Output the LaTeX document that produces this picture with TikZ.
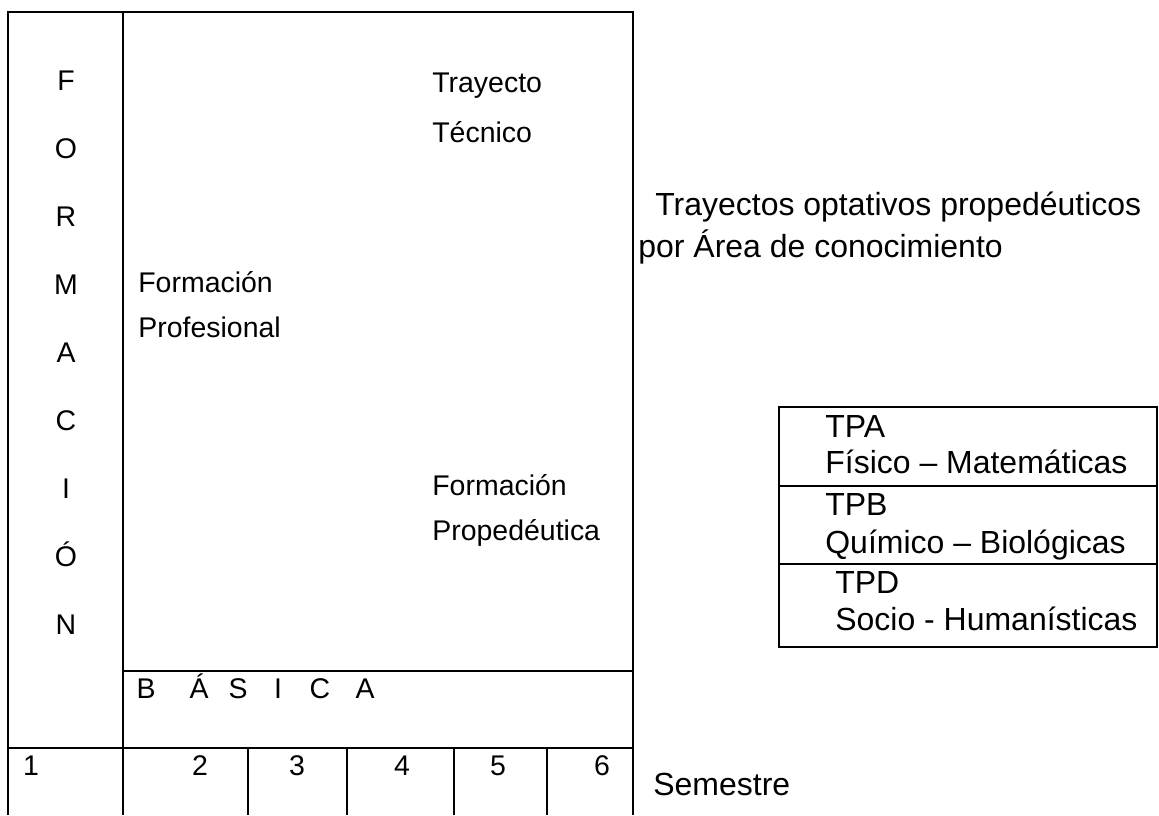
\documentclass[tikz,border=0pt]{standalone}
\usepackage{fontspec}
\setmainfont{Liberation Sans}
\usetikzlibrary{positioning}
\tikzset{
    intxt/.style={inner sep=0pt, font=\fontsize{16.2}{19}\selectfont},
    outtxt/.style={inner sep=0pt, font=\fontsize{18.2}{22}\selectfont},
    gridline/.style={line width=1.1pt}
}

\begin{document}
\begin{tikzpicture}[x=0.02cm, y=-0.02cm]
    \useasboundingbox (0,0) rectangle (1159,815);

    % main frame
    \coordinate (tl) at (8,12);
    \coordinate (tr) at (633,12);
    \coordinate (bl) at (8,815);
    \coordinate (br) at (633,815);
    \draw[gridline] (bl) -- (tl) -- (tr) -- (br);
    \draw[gridline] (123,12) -- (123,815);
    \draw[gridline] (123,671) -- (633,671);
    \draw[gridline] (8,748) -- (633,748);
    \foreach \x in {248,347,454,547}
        \draw[gridline] (\x,748) -- (\x,815);

    % vertical title
    \foreach \l [count=\i from 0] in {F,O,R,M,A,C,I,Ó,N}
        \node[intxt, anchor=base] (f\i) at (66,{90+68*\i}) {\l};

    \node[intxt, anchor=base west] (tt1) at (432,92) {Trayecto};
    \node[intxt, anchor=base west] (tt2) at (432,142) {Técnico};
    \node[intxt, anchor=base west] (fp1) at (138,292) {Formación};
    \node[intxt, anchor=base west] (fp2) at (138,337) {Profesional};
    \node[intxt, anchor=base west] (fq1) at (432,495) {Formación};
    \node[intxt, anchor=base west] (fq2) at (432,540) {Propedéutica};

    \foreach \l/\x [count=\i] in {B/146,Á/199,S/238,I/278,C/320,A/365}
        \node[intxt, anchor=base] (b\i) at (\x,698) {\l};

    \foreach \n/\x in {1/31,2/200,3/297,4/402,5/498,6/602}
        \node[intxt, anchor=base] (s\n) at (\x,775) {\n};

    \node[outtxt, anchor=base west] (sem) at (653,795) {Semestre};

    % optional tracks
    \node[outtxt, anchor=base west] (to1) at (655,215) {Trayectos optativos propedéuticos};
    \node[outtxt, anchor=base west] (to2) at (638,257) {por Área de conocimiento};

    \draw[gridline] (779,407) rectangle (1157,647);
    \draw[gridline] (779,486) -- (1157,486);
    \draw[gridline] (779,564) -- (1157,564);
    \node[outtxt, anchor=base west] (tpa) at (825,437) {TPA};
    \node[outtxt, anchor=base west] (tpa2) at (825,473) {Físico – Matemáticas};
    \node[outtxt, anchor=base west] (tpb) at (825,515) {TPB};
    \node[outtxt, anchor=base west] (tpb2) at (825,553) {Químico – Biológicas};
    \node[outtxt, anchor=base west] (tpd) at (835,593) {TPD};
    \node[outtxt, anchor=base west] (tpd2) at (835,630) {Socio - Humanísticas};
\end{tikzpicture}
\end{document}
